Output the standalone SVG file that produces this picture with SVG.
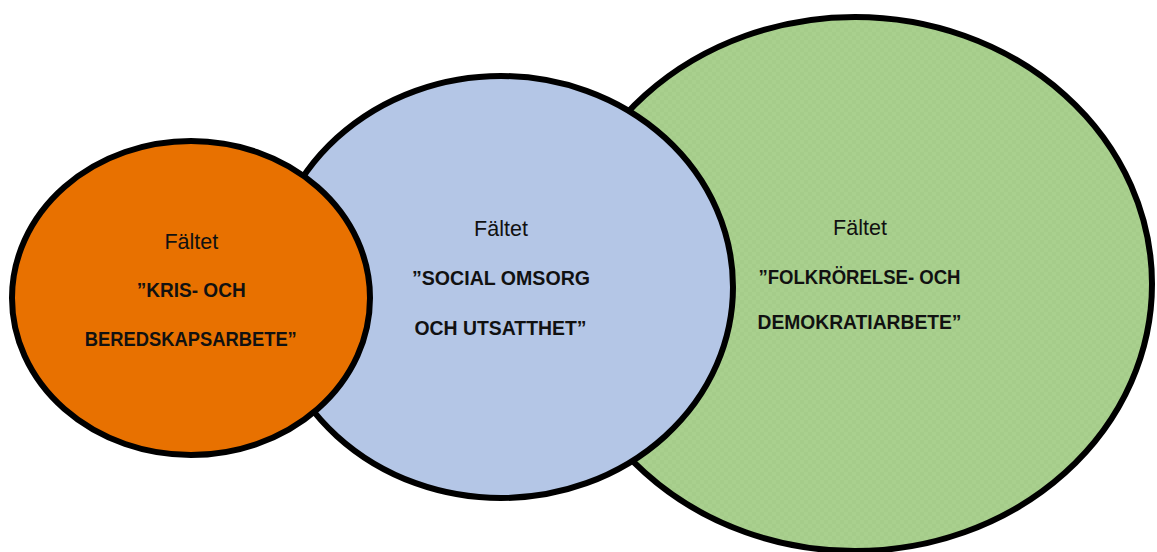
<svg xmlns="http://www.w3.org/2000/svg" width="1157" height="552" viewBox="0 0 1157 552">
<style>
.circ{stroke:#000;stroke-width:6}
.lbl{font-family:"Liberation Sans",Arial,sans-serif;font-size:21.5px;fill:#111;text-anchor:middle}
.ttl{font-family:"Liberation Sans",Arial,sans-serif;font-size:20.5px;font-weight:bold;fill:#111;text-anchor:middle}
</style>
<defs>
<pattern id="tex" width="8" height="8" patternUnits="userSpaceOnUse">
<rect width="8" height="8" fill="#A9D08E"/>
<rect width="4" height="4" fill="#A5CC8A"/>
<rect x="4" y="4" width="4" height="4" fill="#A5CC8A"/>
</pattern>
</defs>
<rect width="1157" height="552" fill="#fff"/>
<g id="connectors"></g>
<g id="node-folkrorelse">
<ellipse class="circ" cx="855" cy="284" rx="297" ry="267" fill="url(#tex)"/>
<text class="lbl" x="860" y="235">Fältet</text>
<text class="ttl" x="859.5" y="283.5" textLength="202" lengthAdjust="spacingAndGlyphs">”FOLKRÖRELSE- OCH</text>
<text class="ttl" x="859.5" y="328.5" textLength="204" lengthAdjust="spacingAndGlyphs">DEMOKRATIARBETE”</text>
</g>
<g id="node-social">
<ellipse class="circ" cx="501" cy="287" rx="232" ry="211" fill="#B4C6E6"/>
<text class="lbl" x="501" y="236">Fältet</text>
<text class="ttl" x="501" y="285" textLength="178" lengthAdjust="spacingAndGlyphs">”SOCIAL OMSORG</text>
<text class="ttl" x="500.5" y="334.5" textLength="172" lengthAdjust="spacingAndGlyphs">OCH UTSATTHET”</text>
</g>
<g id="node-kris">
<ellipse class="circ" cx="191" cy="298" rx="179" ry="157" fill="#E87100"/>
<text class="lbl" x="191.3" y="248.5">Fältet</text>
<text class="ttl" x="191.2" y="297" textLength="109" lengthAdjust="spacingAndGlyphs">”KRIS- OCH</text>
<text class="ttl" x="190.8" y="346" textLength="212" lengthAdjust="spacingAndGlyphs">BEREDSKAPSARBETE”</text>
</g>
</svg>
